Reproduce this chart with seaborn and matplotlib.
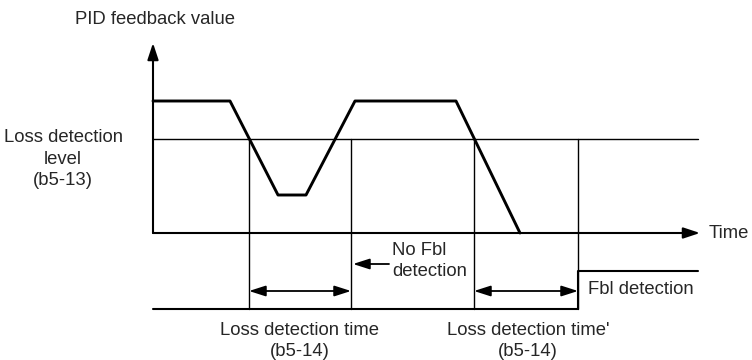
import matplotlib
matplotlib.use("Agg")
import matplotlib.pyplot as plt
import seaborn as sns
import pandas as pd

# PID feedback trace (time, value) -- arbitrary units, origin at the axes corner
feedback_time = [0, 77, 125, 153, 202, 303, 367]
feedback_value = [132, 132, 38, 38, 132, 132, 0]

# Loss detection level (b5-13)
loss_level = 94

# Feedback-loss output signal (low = no detection, high = Fbl detection)
signal_time = [0, 425, 425, 545]
signal_value = [-76, -76, -38, -38]

# Instants bounding the two loss-detection-time windows
window_starts = [96, 321]
window_ends = [198, 425]

sns.set_style("white")
plt.rcParams["font.family"] = ["Liberation Sans", "DejaVu Sans"]

fig = plt.figure(figsize=(7.52, 3.6), dpi=100)
ax = fig.add_axes([0, 0, 1, 1])
ax.set_xlim(-153, 599)
ax.set_ylim(-127, 233)
ax.axis("off")

fb = pd.DataFrame({"t": feedback_time, "v": feedback_value})
sig = pd.DataFrame({"t": signal_time, "v": signal_value})

# Threshold line
ax.plot([0, 545], [loss_level, loss_level], color="black", lw=1.0, zorder=2)

# Vertical markers at the window boundaries
for t in window_starts + window_ends:
    ax.plot([t, t], [signal_value[0], loss_level], color="black", lw=1.0, zorder=2)

# Feedback trace and output signal
sns.lineplot(data=fb, x="t", y="v", sort=False, estimator=None,
             color="black", lw=2.1, ax=ax, zorder=4)
sns.lineplot(data=sig, x="t", y="v", sort=False, estimator=None,
             color="black", lw=1.5, ax=ax, zorder=3)

# Axes with arrow heads
head = dict(arrowstyle="-|>,head_length=1.0,head_width=0.33",
            color="black", lw=1.5, shrinkA=0, shrinkB=0, mutation_scale=10)
ax.annotate("", xy=(0, 190), xytext=(0, 0), arrowprops=head)
ax.annotate("", xy=(547, 0), xytext=(0, 0), arrowprops=head)

# Double arrows for the loss detection time windows
dbl = dict(arrowstyle="<|-|>,head_length=1.0,head_width=0.32",
           color="black", lw=1.3, shrinkA=0, shrinkB=0, mutation_scale=10)
for t0, t1 in zip(window_starts, window_ends):
    ax.annotate("", xy=(t1, -58), xytext=(t0, -58), arrowprops=dbl)

# "No Fbl detection" pointer
ax.annotate("", xy=(200, -31), xytext=(236, -31),
            arrowprops=dict(arrowstyle="-|>,head_length=1.0,head_width=0.32",
                            color="black", lw=1.3, shrinkA=0, shrinkB=0,
                            mutation_scale=10))

fs = 13.3
ax.text(2, 213, "PID feedback value", ha="center", va="center", fontsize=fs)
ax.text(-90, 74, "Loss detection\nlevel\n(b5-13)", ha="center", va="center",
        fontsize=fs, linespacing=1.38)
ax.text(556, 0, "Time", ha="left", va="center", fontsize=fs)
ax.text(239, -28, "No Fbl\ndetection", ha="left", va="center", fontsize=fs,
        linespacing=1.28)
ax.text(435, -56, "Fbl detection", ha="left", va="center", fontsize=fs)
ax.text(147, -108, "Loss detection time\n(b5-14)", ha="center", va="center",
        fontsize=fs, linespacing=1.28)
ax.text(375, -108, "Loss detection time'\n(b5-14)", ha="center", va="center",
        fontsize=fs, linespacing=1.28)

fig.savefig("out.png", dpi=100, facecolor="white")
